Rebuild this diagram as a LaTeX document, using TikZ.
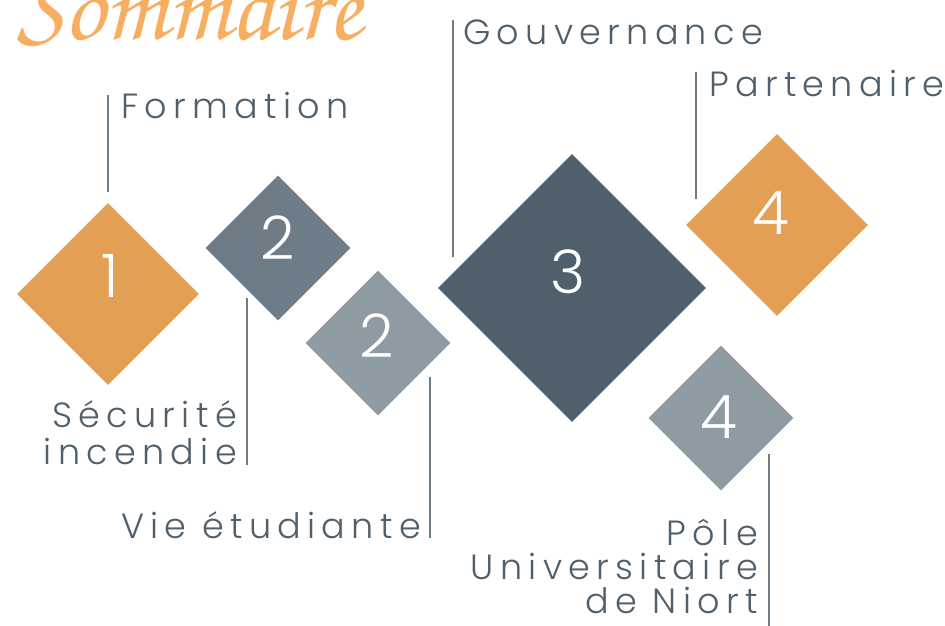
\documentclass[tikz,border=0pt]{standalone}
\usepackage{fontspec}
\usetikzlibrary{shapes.geometric}
\newfontfamily\labfont{Poppins Light}[LetterSpace=18]
\newfontfamily\digfont{Poppins Light}
\newfontfamily\titlefont{texgyrechorus-mediumitalic.otf}
\definecolor{orangeD}{HTML}{E3A054}
\definecolor{grayD}{HTML}{6E7C88}
\definecolor{grayL}{HTML}{8F9BA3}
\definecolor{slateD}{HTML}{4F606C}
\definecolor{titleC}{HTML}{F8AE60}
\definecolor{textC}{HTML}{4F606C}
\definecolor{lineC}{HTML}{6E7C88}
\tikzset{
  dia/.style={diamond, draw=none, inner sep=0pt, aspect=1},
  dig/.style={text=white, inner sep=0pt, font=\digfont\fontsize{60}{60}\selectfont},
  lab/.style={text=textC, inner sep=0pt, font=\labfont\fontsize{35}{35}\selectfont},
  lead/.style={draw=lineC, line width=2pt}
}
\begin{document}
\begin{tikzpicture}[x=1pt,y=-1pt]
\useasboundingbox (0,0) rectangle (945,626);
\clip (0,0) rectangle (945,626);
% title
\node[anchor=base west, text=titleC, inner sep=0pt] (title) at (17,40) {\resizebox{345pt}{!}{\titlefont Sommaire}};
% diamonds
\node[dia, fill=orangeD, minimum size=182pt] (d1) at (108,294) {};
\node[dia, fill=grayD, minimum size=145pt] (d2a) at (278,248) {};
\node[dia, fill=grayL, minimum size=145pt] (d2b) at (378,343) {};
\node[dia, fill=slateD, minimum size=268pt] (d3) at (572,288) {};
\node[dia, fill=orangeD, minimum size=182pt] (d4a) at (777,225) {};
\node[dia, fill=grayL, minimum size=145pt] (d4b) at (721,418) {};
% digits
\node[dig] (n1) at (110,276) {1};
\node[dig] (n2a) at (278,238) {2};
\node[dig] (n2b) at (377,336) {2};
\node[dig] (n3) at (568,272) {3};
\node[dig] (n4a) at (771,213) {4};
\node[dig] (n4b) at (719,417) {4};
% labels
\node[lab, anchor=base west] (lForm) at (121,118) {Formation};
\node[lab, anchor=base west] (lGouv) at (463,45) {Gouvernance};
\node[lab, anchor=base west] (lPart) at (709,96) {Partenaire};
\node[lab, anchor=base east] (lSec1) at (237,427) {Sécurité};
\node[lab, anchor=base east] (lSec2) at (237,464) {incendie};
\node[lab, anchor=base east] (lVie) at (421,538) {Vie étudiante};
\node[lab, anchor=base east] (lPole1) at (758,545) {Pôle};
\node[lab, anchor=base east] (lPole2) at (758,579) {Universitaire};
\node[lab, anchor=base east] (lPole3) at (758,613) {de Niort};
% leader lines
\coordinate (fA) at (108,95);  \coordinate (fB) at (108,192);
\coordinate (gA) at (453,20);  \coordinate (gB) at (453,257);
\coordinate (pA) at (696,72);  \coordinate (pB) at (696,199);
\coordinate (sA) at (247,298); \coordinate (sB) at (247,465);
\coordinate (vA) at (430,377); \coordinate (vB) at (430,538);
\coordinate (uA) at (769,454); \coordinate (uB) at (769,626);
\draw[lead] (fA) -- (fB);
\draw[lead] (gA) -- (gB);
\draw[lead] (pA) -- (pB);
\draw[lead] (sA) -- (sB);
\draw[lead] (vA) -- (vB);
\draw[lead] (uA) -- (uB);
\end{tikzpicture}
\end{document}
